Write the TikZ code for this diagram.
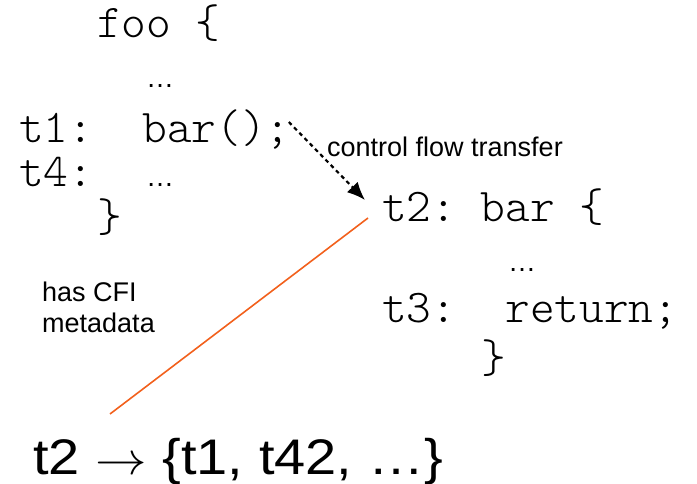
\documentclass[tikz,border=0pt]{standalone}
\usepackage{fontspec}
\setmainfont{Liberation Sans}
\setmonofont{Latin Modern Mono Light}
\usetikzlibrary{positioning,arrows.meta}

\begin{document}
\begin{tikzpicture}[x=1pt,y=-1pt,
    code/.style={
        font=\ttfamily\frenchspacing\fontsize{47}{47}\selectfont,
        anchor=base west,
        inner sep=0pt
    },
    dots/.style={
        font=\fontsize{28}{28}\selectfont,
        anchor=base west,
        inner sep=0pt
    },
    note/.style={
        font=\fontsize{27}{31}\selectfont,
        align=left,
        anchor=base west,
        inner sep=0pt
    },
    flow/.style={
        line width=2.2pt,
        dash pattern=on 4pt off 3.5pt,
        -{Latex[length=18pt,width=15pt]}
    },
    meta/.style={
        draw={rgb,255:red,242;green,96;blue,28},
        line width=1.6pt
    }
    ]
    \useasboundingbox (0,0) rectangle (697,484);

    % foo
    \node[code] (foo) at (97,38) {foo \{};
    \node[dots] (dots_1) at (146,88) {…};
    \node[code] (t1) at (19,143) {t1:\ \ bar();};
    \node[code] (t4) at (19,187) {t4:};
    \node[dots] (dots_2) at (146,187) {…};
    \node[code] (foo_end) at (97,232) {\}};

    % bar
    \node[code] (bar) at (382,222) {t2: bar \{};
    \node[dots] (dots_3) at (508,272) {…};
    \node[code] (t3) at (382,323) {t3:\ \ return;};
    \node[code] (bar_end) at (481,372) {\}};

    % labels
    \node[note] (cft) at (327,157) {control flow transfer};
    \node[note] (cfi) at (42,332) {has CFI\\metadata};
    \node[anchor=base west, inner sep=0pt, font=\fontsize{50}{50}\selectfont] (targets) at (33,474) {\scalebox{1.12}[1]{t2 \resizebox{46pt}{!}{$\rightarrow$} \{t1, t42, …\}}};

    \draw[flow] ([shift={(-2,-21)}]t1.base east) -- ([shift={(-17,-22)}]bar.base west);
    \draw[meta] ([shift={(-14,-4)}]bar.base west) -- ([shift={(77,-60)}]targets.base west);
\end{tikzpicture}
\end{document}
